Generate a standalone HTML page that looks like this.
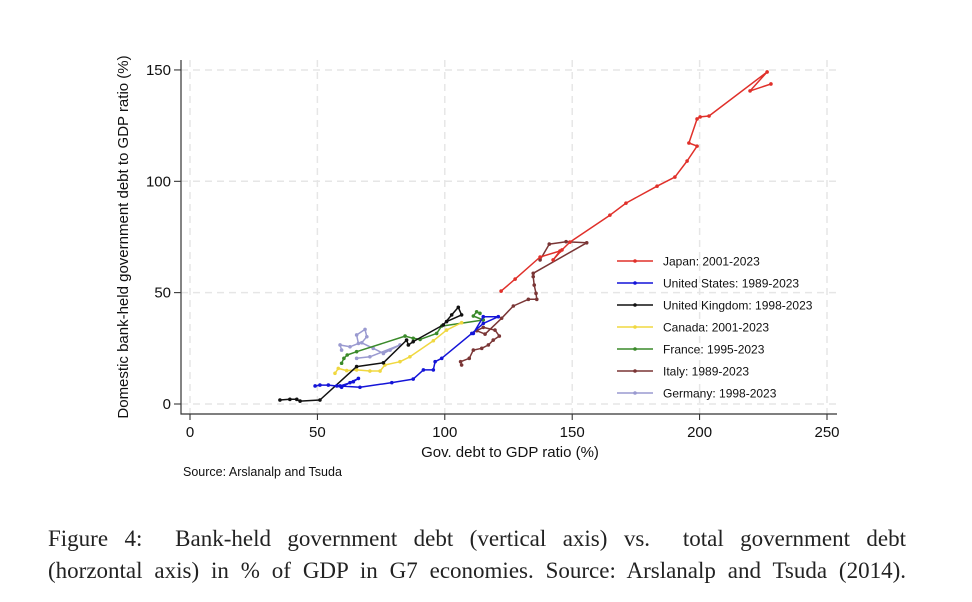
<!DOCTYPE html>
<html><head><meta charset="utf-8"><style>
html,body{margin:0;padding:0;background:#fff;width:972px;height:602px;overflow:hidden}
svg text{font-family:"Liberation Sans",Arial,sans-serif}
.capl{position:absolute;left:48px;width:858px;font-family:"Liberation Serif",serif;font-size:23px;line-height:32px;text-align:justify;text-align-last:justify;color:#222;white-space:nowrap}
</style></head><body>
<svg id="chart" width="972" height="602" style="position:absolute;left:0;top:0">
<g id="grid"></g>
<g id="axes"></g>
<g id="series"></g>
<g id="legend"></g>
<text x="510" y="457" font-size="15" text-anchor="middle" fill="#111">Gov. debt to GDP ratio (%)</text>
<text transform="translate(128,237) rotate(-90)" font-size="15" text-anchor="middle" fill="#111">Domestic bank-held government debt to GDP ratio (%)</text>
<text x="183" y="476" font-size="12.5" fill="#111">Source: Arslanalp and Tsuda</text>
</svg>
<div>
<div class="capl" style="top:523px">Figure 4:&nbsp; Bank-held government debt (vertical axis) vs.&nbsp; total government debt</div>
<div class="capl" style="top:555px">(horzontal axis) in % of GDP in G7 economies. Source: Arslanalp and Tsuda (2014).</div>
</div>
<script>
const xTicks=[0,50,100,150,200,250];
const yTicks=[0,50,100,150];
const seriesNames=["Japan: 2001-2023","United States: 1989-2023","United Kingdom: 1998-2023","Canada: 2001-2023","France: 1995-2023","Italy: 1989-2023","Germany: 1998-2023"];
const seriesColors=["#e0302a","#1414d8","#111111","#f0d840","#3a8a2a","#7a3535","#9a9ad0"];
const japanX=[122.1,127.6,137.4,145.2,142.5,146.0,149.1,164.8,171.1,183.3,190.3,195.1,199.0,195.8,199.0,200.2,203.7,226.5,219.8,228.0];
const japanY=[50.7,56.1,66.0,68.7,64.7,69.2,72.7,84.8,90.2,97.8,101.9,109.1,115.8,117.2,128.0,128.9,129.3,149.1,140.6,143.7];
const usX=[49.1,51.0,54.3,57.6,59.5,62.8,66.1,64.1,58.9,66.7,79.2,87.6,91.6,95.5,96.2,98.8,110.6,115.1,121.0,115.1,111.2];
const usY=[8.1,8.5,8.5,8.1,7.5,9.6,11.5,10.0,8.1,7.5,9.6,11.2,15.3,15.3,19.0,20.5,31.7,36.2,39.2,39.2,31.7];
const ukX=[35.3,39.2,41.9,43.2,51.0,65.4,75.9,85.0,85.7,87.6,99.4,102.7,105.3,106.6,100.7];
const ukY=[1.8,2.1,2.1,1.3,1.8,16.8,18.5,28.7,26.5,28.0,35.5,40.0,43.4,40.0,37.0];
const caX=[56.9,58.2,61.5,65.4,70.6,74.6,76.5,82.4,86.3,95.5,100.7,106.6];
const caY=[13.8,16.0,15.0,15.3,14.8,14.8,17.5,19.0,21.2,28.4,33.2,36.5];
const frX=[59.5,60.4,61.7,65.4,84.4,87.6,90.3,96.8,98.8,115.1,111.2,112.5,113.8];
const frY=[18.3,20.5,22.0,23.5,30.5,29.5,29.0,31.7,35.0,37.7,39.5,41.4,40.7];
const itX=[106.6,106.2,109.6,111.2,114.5,117.1,119.0,121.4,119.7,115.1,112.5,115.8,122.3,126.9,132.8,136.1,135.8,135.1,134.7,134.7,155.7,147.6,141.0,137.4];
const itY=[17.5,19.0,20.5,24.2,25.0,26.5,28.7,30.5,33.2,34.4,32.9,31.4,38.5,44.0,47.0,47.0,49.7,53.4,57.2,58.7,72.4,72.9,71.8,64.7];
const deX=[59.5,58.9,62.8,66.1,65.4,68.7,69.4,67.4,71.9,75.9,78.5,82.4,70.6,65.4];
const deY=[24.2,26.5,25.7,27.2,31.0,33.5,30.2,27.5,25.0,22.7,24.2,26.5,21.2,20.5];
const allX=[japanX,usX,ukX,caX,frX,itX,deX];
const allY=[japanY,usY,ukY,caY,frY,itY,deY];
const keys=["japan","united-states","united-kingdom","canada","france","italy","germany"];
const NS="http://www.w3.org/2000/svg";
const sx=v=>190+v*2.548, sy=v=>404-v*2.227;
function mk(tag,attrs,parent){const e=document.createElementNS(NS,tag);for(const k in attrs)e.setAttribute(k,attrs[k]);parent.appendChild(e);return e;}
const grid=document.getElementById('grid'),axes=document.getElementById('axes'),ser=document.getElementById('series'),leg=document.getElementById('legend');
xTicks.forEach(t=>{
 const l=mk('line',{x1:sx(t),x2:sx(t),y1:60,y2:414,stroke:'#e6e6e6','stroke-width':1.5,'stroke-dasharray':'7,5'},grid);
 
 
 const tk=mk('line',{x1:sx(t),x2:sx(t),y1:414,y2:420,stroke:'#222'},axes);
 
 
 const tx=mk('text',{x:sx(t),y:437,'font-size':15,'text-anchor':'middle',fill:'#111'},axes);tx.textContent=t;
 
 
});
yTicks.forEach(t=>{
 const l=mk('line',{x1:181,x2:837,y1:sy(t),y2:sy(t),stroke:'#e6e6e6','stroke-width':1.5,'stroke-dasharray':'7,5'},grid);
 
 
 const tk=mk('line',{x1:174,x2:181,y1:sy(t),y2:sy(t),stroke:'#222'},axes);
 
 
 const tx=mk('text',{x:171,y:sy(t)+5,'font-size':15,'text-anchor':'end',fill:'#111'},axes);tx.textContent=t;
 
 
});
const ax=mk('path',{d:'M181,60 V414 H837',fill:'none',stroke:'#333','stroke-width':1.2},axes);


[5,6,4,3,2,1,0].forEach(i=>{
 const xs=allX[i],ys=allY[i];
 const g=mk('g',{},ser);
 
 
 const pts=xs.map((x,j)=>sx(x).toFixed(1)+','+sy(ys[j]).toFixed(1)).join(' ');
 const pl=mk('polyline',{points:pts,fill:'none',stroke:seriesColors[i],'stroke-width':1.5,'stroke-linejoin':'round'},g);
 
 
 xs.forEach((x,j)=>{
  const c=mk('circle',{cx:sx(x),cy:sy(ys[j]),r:1.8,fill:seriesColors[i]},g);
  
  
 });
});
seriesNames.forEach((n,i)=>{
 const y=261+i*22;
 const g=mk('g',{},leg);
 
 
 mk('line',{x1:617,x2:653,y1:y,y2:y,stroke:seriesColors[i],'stroke-width':1.5},g);
 mk('circle',{cx:635,cy:y,r:1.8,fill:seriesColors[i]},g);
 const t=mk('text',{x:663,y:y+4.5,'font-size':12,fill:'#111'},g);t.textContent=n;
});
</script>
</body></html>
